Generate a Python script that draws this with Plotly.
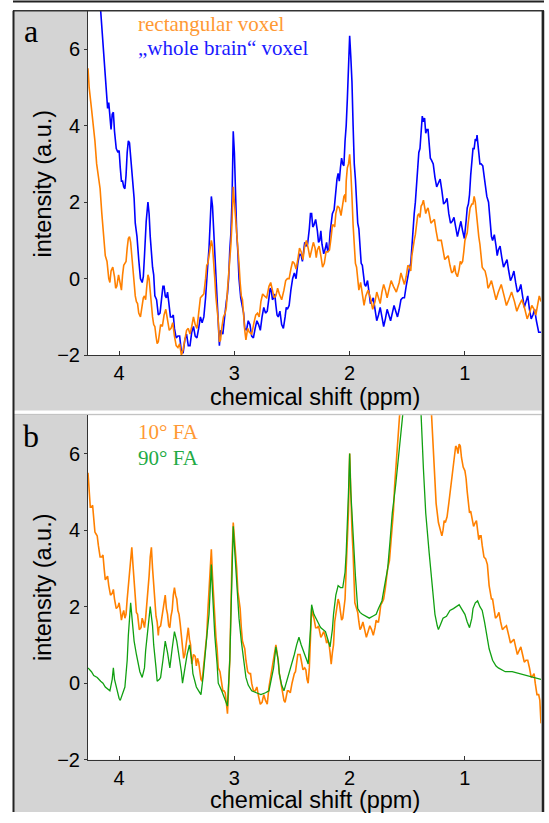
import plotly.graph_objects as go

W, H = 549, 823

# ---------------- data (ppm, intensity) ----------------
# main shape of each spectrum
a_blue = [
(4.27,9.6),(4.22,8.3),(4.16,7.0),(4.13,5.6),(4.10,4.45),(4.08,4.2),(4.06,4.3),(4.04,3.85),(4.01,3.3),(3.99,2.9),
(3.97,2.55),(3.96,2.4),(3.94,2.7),(3.92,3.6),(3.90,3.2),(3.87,2.1),(3.86,1.45),(3.83,0.5),(3.80,-0.1),(3.78,0.6),
(3.75,2.0),(3.73,1.1),(3.71,0.3),(3.69,-0.45),(3.66,-0.95),(3.63,-0.5),(3.61,-0.2),(3.59,-0.5),(3.57,-0.6),(3.54,-1.0),
(3.52,-1.3),(3.49,-1.5),(3.46,-1.9),(3.43,-1.6),(3.40,-1.75),(3.37,-1.4),(3.34,-1.5),(3.31,-1.3),(3.28,-1.15),(3.25,-0.5),
(3.23,0.4),(3.21,1.5),(3.20,2.15),(3.18,1.3),(3.16,0.2),(3.15,-0.45),(3.13,-1.75),(3.11,-1.4),(3.09,-1.15),(3.07,-0.6),
(3.05,0.0),(3.03,1.2),(3.02,2.1),(3.01,3.85),(3.00,3.3),(2.99,2.1),(2.97,0.7),(2.96,0.0),(2.93,-0.8),(2.91,-1.3),
(2.88,-1.1),(2.85,-1.5),(2.82,-1.3),(2.79,-1.2),(2.76,-1.0),(2.73,-0.9),(2.70,-0.5),(2.68,-0.3),(2.66,-0.5),(2.64,-0.7),
(2.62,-1.0),(2.59,-1.2),(2.56,-1.0),(2.54,-0.8),(2.51,-0.3),(2.48,0.15),(2.45,0.4),(2.42,0.6),(2.40,0.7),(2.38,0.85),
(2.35,1.3),(2.33,1.7),(2.31,1.4),(2.28,1.25),(2.26,1.0),(2.24,0.9),(2.21,0.8),(2.19,0.7),(2.17,1.2),(2.15,1.7),
(2.12,2.3),(2.10,2.75),(2.08,2.9),(2.06,3.0),(2.04,3.6),(2.02,4.7),(2.01,5.6),(2.00,6.35),(1.99,5.8),(1.98,5.15),
(1.97,4.0),(1.96,3.0),(1.94,2.0),(1.93,1.45),(1.91,0.8),(1.90,0.4),(1.88,0.1),(1.86,-0.2),(1.83,-0.4),(1.81,-0.6),
(1.78,-0.8),(1.75,-0.95),(1.72,-1.0),(1.69,-1.05),(1.66,-0.95),(1.63,-0.9),(1.60,-0.85),(1.57,-0.8),(1.54,-0.5),(1.51,-0.2),
(1.48,0.3),(1.46,0.85),(1.44,1.7),(1.42,2.55),(1.40,3.3),(1.38,3.85),(1.36,4.1),(1.35,4.2),(1.33,3.9),(1.31,3.6),
(1.29,3.1),(1.26,2.65),(1.23,2.5),(1.20,2.3),(1.17,2.0),(1.14,1.7),(1.11,1.5),(1.08,1.35),(1.05,1.3),(1.02,1.25),
(0.99,1.5),(0.97,1.95),(0.95,2.7),(0.93,3.4),(0.91,3.65),(0.90,3.6),(0.88,3.3),(0.86,3.0),(0.83,2.6),(0.81,2.15),
(0.78,1.5),(0.76,1.0),(0.73,0.85),(0.71,0.75),(0.68,0.55),(0.65,0.4),(0.62,0.2),(0.59,0.05),(0.56,-0.1),(0.53,-0.3),
(0.50,-0.45),(0.47,-0.6),(0.44,-0.8),(0.41,-0.95),(0.38,-1.1),(0.34,-1.4)]
# extra points read in between: the noise of the spectrum
a_blue_fine = [
(4.115,4.9),(4.09,4.6),(4.07,3.9),(4.05,4.35),(4.025,3.4),(4.00,3.35),(3.98,2.55),(3.95,2.35),(3.93,3.3),(3.91,3.55),
(3.885,2.5),(3.845,1.1),(3.815,0.0),(3.79,0.05),(3.765,1.5),(3.74,1.7),(3.72,0.55),(3.70,0.1),(3.675,-0.55),(3.645,-0.9),
(3.62,-0.2),(3.60,-0.45),(3.58,-0.35),(3.555,-1.0),(3.53,-0.95),(3.505,-1.55),(3.475,-1.5),(3.445,-1.95),(3.415,-1.45),(3.385,-1.75),
(3.355,-1.25),(3.325,-1.55),(3.295,-1.0),(3.265,-1.0),(3.24,0.1),(3.22,0.8),(3.19,1.9),(3.17,0.5),(3.14,-1.2),(3.12,-1.35),
(3.10,-1.45),(3.08,-0.75),(3.06,-0.4),(3.04,0.75),(2.98,1.2),(2.945,-0.5),(2.92,-0.9),(2.895,-1.35),(2.865,-1.2),(2.835,-1.55),
(2.805,-1.1),(2.775,-1.35),(2.745,-0.75),(2.715,-0.85),(2.69,-0.25),(2.67,-0.55),(2.65,-0.4),(2.63,-0.95),(2.605,-0.85),(2.575,-1.3),
(2.55,-0.75),(2.525,-0.7),(2.495,0.0),(2.465,0.0),(2.435,0.65),(2.41,0.45),(2.39,0.95),(2.365,0.9),(2.34,1.7),(2.32,1.35),
(2.295,1.55),(2.27,0.95),(2.25,1.25),(2.225,0.65),(2.20,0.95),(2.18,0.75),(2.16,1.5),(2.135,1.8),(2.11,2.6),(2.09,2.55),
(2.07,3.15),(2.05,2.95),(2.03,4.0),(1.985,5.6),(1.965,3.3),(1.95,2.6),(1.935,1.55),(1.92,1.3),(1.905,0.5),(1.89,0.35),
(1.87,-0.15),(1.845,-0.05),(1.82,-0.65),(1.795,-0.5),(1.765,-1.1),(1.735,-0.75),(1.705,-1.25),(1.675,-0.8),(1.645,-1.1),(1.615,-0.7),
(1.585,-1.0),(1.555,-0.55),(1.525,-0.5),(1.495,0.1),(1.47,0.4),(1.45,1.4),(1.43,2.0),(1.41,3.1),(1.39,3.4),(1.37,4.25),
(1.34,3.8),(1.32,3.9),(1.30,3.15),(1.275,3.0),(1.245,2.4),(1.215,2.6),(1.185,1.95),(1.155,2.1),(1.125,1.45),(1.095,1.6),
(1.065,1.1),(1.035,1.5),(1.005,1.05),(0.98,1.85),(0.96,2.2),(0.94,3.2),(0.92,3.4),(0.895,3.75),(0.87,3.0),(0.845,2.95),
(0.82,2.3),(0.795,2.0),(0.77,1.1),(0.745,1.15),(0.72,0.6),(0.695,0.85),(0.665,0.3),(0.635,0.5),(0.605,-0.05),(0.575,0.2),
(0.545,-0.35),(0.515,-0.15),(0.485,-0.75),(0.455,-0.45),(0.425,-1.05),(0.395,-0.8),(0.36,-1.4)]

a_orange = [
(4.27,5.5),(4.26,5.0),(4.24,4.45),(4.21,3.6),(4.18,2.65),(4.15,1.7),(4.12,0.6),(4.09,0.0),(4.07,0.2),(4.04,0.05),
(4.02,-0.2),(3.99,-0.1),(3.97,0.1),(3.95,0.4),(3.93,0.8),(3.91,1.1),(3.89,0.6),(3.87,-0.1),(3.85,-0.6),(3.83,-0.9),
(3.80,-0.7),(3.78,-0.45),(3.76,-0.2),(3.74,0.0),(3.72,-0.6),(3.70,-1.2),(3.68,-1.5),(3.66,-1.65),(3.64,-1.2),(3.61,-0.95),
(3.58,-1.1),(3.55,-1.3),(3.52,-1.5),(3.49,-1.8),(3.46,-2.0),(3.43,-1.6),(3.40,-1.3),(3.37,-1.25),(3.34,-1.2),(3.31,-0.9),
(3.28,-0.45),(3.25,0.0),(3.23,0.4),(3.21,0.8),(3.20,1.0),(3.18,0.5),(3.17,0.0),(3.15,-0.8),(3.13,-1.65),(3.11,-1.3),
(3.08,-0.9),(3.06,-0.3),(3.04,0.4),(3.02,1.5),(3.01,2.4),(3.00,2.0),(2.98,1.3),(2.96,0.4),(2.94,-0.45),(2.92,-1.0),
(2.90,-1.6),(2.87,-1.4),(2.83,-1.15),(2.80,-0.9),(2.77,-0.6),(2.74,-0.45),(2.70,-0.2),(2.67,-0.3),(2.64,-0.45),(2.61,-0.4),
(2.57,-0.3),(2.54,0.0),(2.51,0.25),(2.48,0.4),(2.45,0.5),(2.42,0.7),(2.39,0.85),(2.36,0.8),(2.33,0.75),(2.30,0.8),
(2.28,0.75),(2.25,0.6),(2.22,0.4),(2.19,0.7),(2.16,1.1),(2.14,1.4),(2.12,1.7),(2.09,1.85),(2.06,1.95),(2.04,2.2),
(2.03,2.55),(2.01,3.0),(2.00,3.25),(1.99,2.8),(1.98,2.15),(1.97,1.4),(1.95,0.4),(1.93,0.0),(1.92,-0.3),(1.89,-0.4),
(1.86,-0.45),(1.82,-0.5),(1.78,-0.6),(1.75,-0.5),(1.72,-0.35),(1.69,-0.3),(1.66,-0.3),(1.62,-0.2),(1.57,-0.1),(1.54,0.0),
(1.51,0.05),(1.48,0.3),(1.46,0.6),(1.44,1.0),(1.42,1.45),(1.40,1.7),(1.38,1.9),(1.37,1.95),(1.35,1.9),(1.33,1.8),
(1.31,1.7),(1.28,1.5),(1.25,1.25),(1.22,1.0),(1.19,0.75),(1.16,0.55),(1.13,0.35),(1.10,0.2),(1.08,0.15),(1.05,0.25),
(1.03,0.4),(1.01,0.7),(0.99,1.1),(0.97,1.5),(0.94,1.95),(0.92,2.15),(0.90,1.7),(0.88,1.1),(0.86,0.6),(0.84,0.25),
(0.81,0.0),(0.79,-0.2),(0.75,-0.3),(0.71,-0.35),(0.66,-0.45),(0.62,-0.55),(0.57,-0.6),(0.53,-0.7),(0.48,-0.8),(0.44,-0.9),
(0.40,-0.8),(0.37,-0.7),(0.34,-0.6)]
a_orange_fine = [
(4.225,4.1),(4.195,3.0),(4.165,2.35),(4.135,1.0),(4.105,0.45),(4.08,-0.1),(4.055,0.3),(4.03,-0.25),(4.005,0.1),(3.98,-0.3),
(3.96,0.35),(3.94,0.45),(3.92,1.05),(3.90,0.95),(3.88,0.1),(3.86,-0.45),(3.84,-0.65),(3.815,-1.0),(3.79,-0.5),(3.77,-0.55),
(3.75,0.1),(3.73,-0.4),(3.71,-1.0),(3.69,-1.25),(3.67,-1.7),(3.65,-1.35),(3.625,-1.25),(3.595,-0.8),(3.565,-1.35),(3.535,-1.15),
(3.505,-1.75),(3.475,-1.7),(3.445,-1.85),(3.415,-1.35),(3.385,-1.45),(3.355,-1.0),(3.325,-1.3),(3.295,-0.5),(3.265,-0.4),(3.24,0.35),
(3.19,0.85),(3.16,-0.5),(3.14,-1.1),(3.12,-1.6),(3.095,-1.0),(3.07,-0.75),(3.05,0.1),(3.03,0.9),(2.97,0.9),(2.95,-0.1),
(2.93,-0.55),(2.91,-1.35),(2.885,-1.3),(2.85,-1.45),(2.815,-0.95),(2.785,-1.0),(2.755,-0.4),(2.72,-0.5),(2.685,-0.1),(2.655,-0.5),
(2.625,-0.25),(2.59,-0.55),(2.555,-0.05),(2.525,0.0),(2.495,0.45),(2.465,0.25),(2.435,0.8),(2.405,0.5),(2.375,1.0),(2.345,0.55),
(2.315,0.95),(2.29,0.55),(2.265,0.85),(2.235,0.3),(2.205,0.7),(2.175,0.75),(2.15,1.4),(2.13,1.35),(2.105,1.9),(2.075,1.65),
(2.05,2.15),(2.035,2.0),(2.02,2.9),(1.985,2.6),(1.96,0.9),(1.94,0.3),(1.905,-0.1),(1.875,-0.7),(1.84,-0.3),(1.80,-0.8),
(1.765,-0.35),(1.735,-0.65),(1.705,-0.15),(1.675,-0.5),(1.64,-0.05),(1.595,-0.35),(1.555,0.15),(1.525,-0.15),(1.495,0.35),(1.47,0.2),
(1.45,0.85),(1.43,1.15),(1.41,1.65),(1.39,1.6),(1.36,2.05),(1.34,1.7),(1.32,1.85),(1.295,1.45),(1.265,1.55),(1.235,1.0),
(1.205,1.0),(1.175,0.5),(1.145,0.6),(1.115,0.15),(1.09,0.35),(1.065,0.05),(1.04,0.45),(1.02,0.45),(1.00,1.0),(0.98,1.2),
(0.955,1.85),(0.93,1.95),(0.91,2.0),(0.89,1.3),(0.87,0.9),(0.85,0.3),(0.825,0.2),(0.80,-0.25),(0.77,-0.05),(0.73,-0.55),
(0.685,-0.15),(0.64,-0.7),(0.595,-0.35),(0.55,-0.85),(0.505,-0.55),(0.46,-1.05),(0.42,-0.7),(0.385,-0.95),(0.355,-0.45)]

b_orange = [
(4.27,5.5),(4.26,5.0),(4.24,4.6),(4.22,4.3),(4.20,3.9),(4.18,3.6),(4.15,3.3),(4.13,3.0),(4.11,2.75),(4.09,2.55),
(4.06,2.35),(4.04,2.2),(4.01,2.0),(3.99,1.9),(3.97,1.8),(3.95,1.7),(3.93,2.2),(3.91,2.75),(3.89,3.55),(3.88,3.1),
(3.86,2.15),(3.84,1.8),(3.81,1.45),(3.79,1.6),(3.77,1.7),(3.75,2.3),(3.74,2.8),(3.72,3.55),(3.71,3.0),(3.69,2.15),
(3.67,1.6),(3.66,1.25),(3.64,1.5),(3.63,1.7),(3.61,2.2),(3.60,2.3),(3.58,1.8),(3.56,1.45),(3.54,1.9),(3.52,2.5),
(3.50,2.2),(3.48,1.8),(3.46,1.2),(3.44,0.65),(3.42,1.0),(3.40,1.45),(3.38,1.0),(3.37,0.5),(3.34,0.7),(3.32,0.65),
(3.30,0.3),(3.28,0.05),(3.26,0.6),(3.24,1.25),(3.22,2.55),(3.20,3.5),(3.19,2.8),(3.17,1.7),(3.15,0.9),(3.14,0.4),
(3.11,0.0),(3.09,-0.2),(3.07,-0.5),(3.06,-0.8),(3.04,0.6),(3.03,2.15),(3.02,3.3),(3.01,4.2),(3.00,3.8),(2.98,3.0),
(2.96,2.2),(2.94,1.45),(2.92,1.0),(2.90,0.6),(2.87,0.25),(2.85,0.0),(2.82,-0.2),(2.79,-0.35),(2.76,-0.5),(2.73,-0.45),
(2.70,-0.1),(2.68,0.25),(2.66,0.7),(2.64,1.0),(2.62,0.6),(2.61,0.25),(2.59,-0.1),(2.57,-0.45),(2.55,-0.35),(2.53,-0.2),
(2.50,0.0),(2.48,0.25),(2.46,0.5),(2.44,0.75),(2.42,0.6),(2.39,0.4),(2.37,0.1),(2.36,0.0),(2.34,1.0),(2.33,1.95),
(2.31,1.7),(2.28,1.45),(2.26,1.35),(2.24,1.25),(2.21,1.2),(2.19,1.1),(2.17,0.8),(2.16,0.5),(2.14,1.0),(2.13,1.6),
(2.11,2.0),(2.10,2.2),(2.08,1.9),(2.06,1.7),(2.04,2.2),(2.03,3.0),(2.01,4.5),(2.00,6.0),(1.99,4.8),(1.97,3.4),
(1.96,2.5),(1.94,1.95),(1.92,1.6),(1.90,1.45),(1.87,1.4),(1.84,1.35),(1.81,1.4),(1.78,1.45),(1.76,1.6),(1.74,1.8),
(1.72,2.1),(1.69,2.5),(1.67,3.0),(1.64,3.7),(1.62,4.5),(1.61,5.15),(1.59,6.2),(1.58,7.0),(1.55,8.8),(1.50,10.8),
(1.45,12.0),(1.40,11.6),(1.35,10.0),(1.31,8.2),(1.29,7.0),(1.27,5.6),(1.25,4.7),(1.23,4.2),(1.22,4.1),(1.19,4.0),
(1.17,4.2),(1.14,4.7),(1.11,5.4),(1.09,6.0),(1.07,6.15),(1.05,6.25),(1.03,5.9),(1.00,5.55),(0.98,5.0),(0.96,4.45),
(0.94,4.3),(0.91,4.2),(0.89,4.0),(0.87,3.85),(0.85,3.6),(0.82,3.25),(0.79,2.55),(0.77,2.2),(0.75,1.95),(0.72,1.75),
(0.69,1.6),(0.66,1.45),(0.62,1.25),(0.59,1.1),(0.56,0.95),(0.53,0.85),(0.50,0.75),(0.47,0.6),(0.44,0.4),(0.41,0.2),
(0.39,0.0),(0.36,-0.3),(0.34,-1.05)]
b_orange_fine = [
(4.25,4.6),(4.23,4.65),(4.21,3.95),(4.19,3.85),(4.165,3.3),(4.14,3.35),(4.12,2.7),(4.10,2.8),(4.075,2.3),(4.05,2.45),
(4.025,1.95),(4.00,2.1),(3.98,1.65),(3.96,1.9),(3.94,1.8),(3.92,2.6),(3.90,3.2),(3.87,2.6),(3.85,1.85),(3.825,1.4),
(3.80,1.7),(3.78,1.45),(3.76,2.05),(3.73,3.3),(3.70,2.55),(3.68,1.75),(3.655,1.45),(3.62,1.9),(3.59,1.95),(3.57,1.5),
(3.55,1.75),(3.53,2.3),(3.51,2.3),(3.49,1.9),(3.47,1.55),(3.45,0.8),(3.43,0.75),(3.41,1.2),(3.39,1.15),(3.375,0.7),
(3.355,0.75),(3.33,0.45),(3.31,0.55),(3.29,0.1),(3.27,0.35),(3.25,0.9),(3.23,1.9),(3.18,2.2),(3.16,1.2),(3.145,0.7),
(3.125,0.3),(3.10,-0.2),(3.08,-0.25),(3.065,-0.65),(2.99,3.5),(2.97,2.4),(2.95,1.95),(2.93,1.1),(2.91,0.9),(2.885,0.3),
(2.86,0.25),(2.835,-0.2),(2.805,-0.1),(2.775,-0.55),(2.745,-0.3),(2.715,-0.55),(2.69,0.1),(2.67,0.4),(2.65,0.9),(2.63,0.8),
(2.60,0.05),(2.58,-0.3),(2.56,-0.5),(2.54,-0.2),(2.515,-0.25),(2.49,0.15),(2.47,0.3),(2.45,0.75),(2.43,0.75),(2.405,0.35),
(2.38,0.35),(2.35,0.4),(2.32,1.8),(2.295,1.45),(2.27,1.5),(2.25,1.2),(2.225,1.35),(2.20,1.05),(2.18,1.05),(2.165,0.55),
(2.15,0.8),(2.12,1.85),(2.09,2.1),(2.07,1.65),(2.05,1.95),(1.98,4.0),(1.955,2.1),(1.93,1.85),(1.91,1.4),(1.885,1.6),
(1.855,1.2),(1.825,1.5),(1.795,1.25),(1.77,1.65),(1.75,1.6),(1.73,2.05),(1.705,2.2),(1.68,2.8),(1.655,3.2),(1.63,4.15),
(1.20,3.85),(1.18,4.25),(1.155,4.35),(1.125,5.1),(1.10,5.65),(1.08,6.2),(1.06,6.0),(1.04,6.2),(1.015,5.65),(0.99,5.35),
(0.97,4.65),(0.95,4.5),(0.925,4.1),(0.90,4.25),(0.88,3.75),(0.86,3.85),(0.835,3.3),(0.805,3.1),(0.78,2.3),(0.76,2.2),
(0.735,1.7),(0.705,1.85),(0.675,1.4),(0.64,1.5),(0.605,1.05),(0.575,1.15),(0.545,0.75),(0.515,0.95),(0.485,0.55),(0.455,0.6),
(0.425,0.15),(0.40,0.25),(0.375,-0.3),(0.35,-0.45)]

b_green = [
(4.27,0.4),(4.24,0.3),(4.22,0.2),(4.19,0.15),(4.16,0.05),(4.14,0.0),(4.12,-0.1),(4.10,-0.15),(4.08,-0.2),(4.06,0.1),
(4.05,0.4),(4.04,0.1),(4.02,-0.2),(4.00,-0.4),(3.99,-0.45),(3.97,-0.3),(3.95,-0.1),(3.93,0.6),(3.92,1.25),(3.90,2.1),
(3.89,1.7),(3.87,1.1),(3.85,0.75),(3.84,0.6),(3.82,0.3),(3.80,0.15),(3.78,0.4),(3.77,0.85),(3.75,1.5),(3.73,2.0),
(3.71,1.5),(3.70,1.0),(3.68,0.4),(3.67,0.05),(3.65,0.1),(3.64,0.15),(3.62,0.6),(3.60,1.1),(3.58,0.8),(3.56,0.4),
(3.54,0.9),(3.52,1.35),(3.50,1.1),(3.48,0.75),(3.46,0.3),(3.45,0.0),(3.43,0.4),(3.41,0.75),(3.39,1.0),(3.37,0.6),
(3.36,0.25),(3.33,-0.1),(3.31,-0.2),(3.29,-0.3),(3.27,0.2),(3.26,0.6),(3.24,1.2),(3.22,1.8),(3.21,2.6),(3.20,3.1),
(3.19,2.4),(3.17,1.25),(3.15,0.5),(3.14,0.0),(3.11,-0.2),(3.09,-0.35),(3.07,-0.5),(3.06,-0.6),(3.04,0.6),(3.03,1.7),
(3.02,2.9),(3.01,4.1),(3.00,3.6),(2.98,2.55),(2.96,1.7),(2.94,1.1),(2.92,0.6),(2.90,0.15),(2.88,-0.05),(2.85,-0.2),
(2.81,-0.25),(2.77,-0.3),(2.73,-0.25),(2.70,-0.2),(2.68,0.1),(2.66,0.4),(2.64,0.95),(2.62,0.6),(2.61,0.25),(2.59,-0.05),
(2.57,-0.2),(2.55,0.0),(2.53,0.25),(2.50,0.5),(2.48,0.75),(2.46,1.0),(2.44,1.2),(2.42,1.0),(2.39,0.75),(2.37,0.55),
(2.36,0.5),(2.34,1.4),(2.33,2.05),(2.31,1.8),(2.28,1.6),(2.26,1.5),(2.25,1.45),(2.23,1.4),(2.21,1.35),(2.19,1.15),
(2.17,0.95),(2.15,1.4),(2.14,1.8),(2.12,2.3),(2.10,2.55),(2.08,2.5),(2.06,2.5),(2.04,2.9),(2.03,3.4),(2.01,5.0),
(2.00,6.0),(1.99,5.0),(1.97,3.85),(1.95,2.8),(1.93,1.95),(1.91,1.85),(1.89,1.8),(1.86,1.75),(1.83,1.7),(1.80,1.75),
(1.77,1.8),(1.75,1.95),(1.72,2.15),(1.70,2.5),(1.67,3.0),(1.65,3.7),(1.63,4.45),(1.60,5.2),(1.58,5.85),(1.56,6.5),
(1.54,7.0),(1.51,8.6),(1.47,10.0),(1.43,9.4),(1.40,8.0),(1.38,7.0),(1.36,5.6),(1.34,4.45),(1.31,3.4),(1.28,2.5),
(1.26,1.8),(1.24,1.5),(1.23,1.4),(1.21,1.55),(1.19,1.7),(1.16,1.75),(1.13,1.9),(1.10,1.95),(1.07,2.0),(1.05,2.05),
(1.03,1.95),(1.00,1.8),(0.98,1.6),(0.96,1.45),(0.94,1.7),(0.93,1.95),(0.91,2.1),(0.89,2.15),(0.87,2.0),(0.85,1.9),
(0.83,1.6),(0.81,1.25),(0.79,0.9),(0.76,0.6),(0.73,0.45),(0.71,0.4),(0.68,0.35),(0.65,0.3),(0.59,0.3),(0.53,0.25),
(0.47,0.2),(0.41,0.15),(0.34,0.1)]

x_ticks = [4, 3, 2, 1]
y_ticks = [-2, 0, 2, 4, 6]
x_range = [4.27, 0.34]
y_range = [-2, 7]

ORANGE = "#ff8000"
BLUE = "#0000ff"
GREEN = "#11a011"

def px(x):
    return x / W

def py(y):
    return 1 - y / H

fig = go.Figure()

def add(parts, color, width, xa, ya):
    pts = sorted([p for part in parts for p in part], key=lambda t: -t[0])
    fig.add_trace(go.Scatter(x=[p for p, v in pts], y=[v for p, v in pts],
                             mode="lines", line=dict(color=color, width=width),
                             xaxis=xa, yaxis=ya, showlegend=False, hoverinfo="skip"))

add([a_blue, a_blue_fine], BLUE, 1.6, "x", "y")
add([a_orange, a_orange_fine], ORANGE, 1.6, "x", "y")
add([b_orange, b_orange_fine], ORANGE, 1.6, "x2", "y2")
add([b_green], GREEN, 1.3, "x2", "y2")

tickfont = dict(family="Liberation Sans, Arial, sans-serif", size=20, color="black")
axis_common = dict(showgrid=False, zeroline=False, showline=True, linecolor="#333333",
                   linewidth=1, tickfont=tickfont, tickcolor="#333333", fixedrange=True)

plot_x0, plot_x1 = 88, 541
pa = (11, 360)
pb = (421, 770)

fig.update_layout(
    width=W, height=H, margin=dict(l=0, r=0, t=0, b=0),
    paper_bgcolor="white", plot_bgcolor="white", hovermode=False,
    xaxis=dict(domain=[px(plot_x0), px(plot_x1)], range=x_range, tickvals=x_ticks,
               ticks="inside", ticklen=4, anchor="y", **axis_common),
    yaxis=dict(domain=[py(pa[1]), py(pa[0])], range=y_range, tickvals=y_ticks,
               ticks="outside", ticklen=3, anchor="x", **axis_common),
    xaxis2=dict(domain=[px(plot_x0), px(plot_x1)], range=x_range, tickvals=x_ticks,
                ticks="inside", ticklen=4, anchor="y2", **axis_common),
    yaxis2=dict(domain=[py(pb[1]), py(pb[0])], range=y_range, tickvals=y_ticks,
                ticks="outside", ticklen=3, anchor="x2", **axis_common),
)

GRAY = "#d4d4d4"
shapes = []
def rect(x0, y0, x1, y1, fill):
    shapes.append(dict(type="rect", xref="paper", yref="paper", x0=px(x0), x1=px(x1),
                       y0=py(y1), y1=py(y0), fillcolor=fill, line=dict(width=0), layer="below"))
def line(x0, y0, x1, y1, color, width, layer="above"):
    shapes.append(dict(type="line", xref="paper", yref="paper", x0=px(x0), x1=px(x1),
                       y0=py(y0), y1=py(y1), line=dict(color=color, width=width), layer=layer))

rect(13, 11, 544, 416, GRAY)
rect(13, 420, 544, 823, GRAY)
rect(plot_x0, pa[0], plot_x1, pa[1], "white")
rect(plot_x0, pb[0], plot_x1, pb[1], "white")
line(13, 1.5, 544, 1.5, "#222222", 2)
line(13, 11, 544, 11, "#333333", 1.5)
line(13, 420, 544, 420, "#bdbdbd", 1)
line(13.5, 11, 13.5, 823, "#222222", 2)
line(543, 11, 543, 823, "#222222", 2.5)
fig.update_layout(shapes=shapes)

SERIF = "Liberation Serif, Times New Roman, serif"
SANS = "Liberation Sans, Arial, sans-serif"
ann = []
def text(x, y, s, size, color, family, xanchor="center", angle=0):
    ann.append(dict(x=px(x), y=py(y), xref="paper", yref="paper", text=s, showarrow=False,
                    xanchor=xanchor, yanchor="middle", textangle=angle,
                    font=dict(family=family, size=size, color=color)))

text(31, 31, "a", 32, "black", SERIF)
text(31, 442, "b", 32, "black", SERIF)
text(136, 24, "rectangular voxel", 21, "#ff9933", SERIF, xanchor="left")
text(136, 49, "\u201ewhole brain\u201c voxel", 21, "#1a1aff", SERIF, xanchor="left")
text(136, 438, "10\u00b0 FA", 21, "#ff9933", SERIF, xanchor="left")
text(136, 464, "90\u00b0 FA", 21, "#22aa44", SERIF, xanchor="left")
text(314.5, 402, "chemical shift (ppm)", 23.5, "black", SANS)
text(314.5, 811, "chemical shift (ppm)", 23.5, "black", SANS)
text(43, 186, "intensity (a.u.)", 23.5, "black", SANS, angle=-90)
text(43, 595, "intensity (a.u.)", 23.5, "black", SANS, angle=-90)
fig.update_layout(annotations=ann)

fig.write_html("out.html", config={"displayModeBar": False, "staticPlot": True},
               post_script="document.body.style.margin='0';document.body.style.overflow='hidden';")
